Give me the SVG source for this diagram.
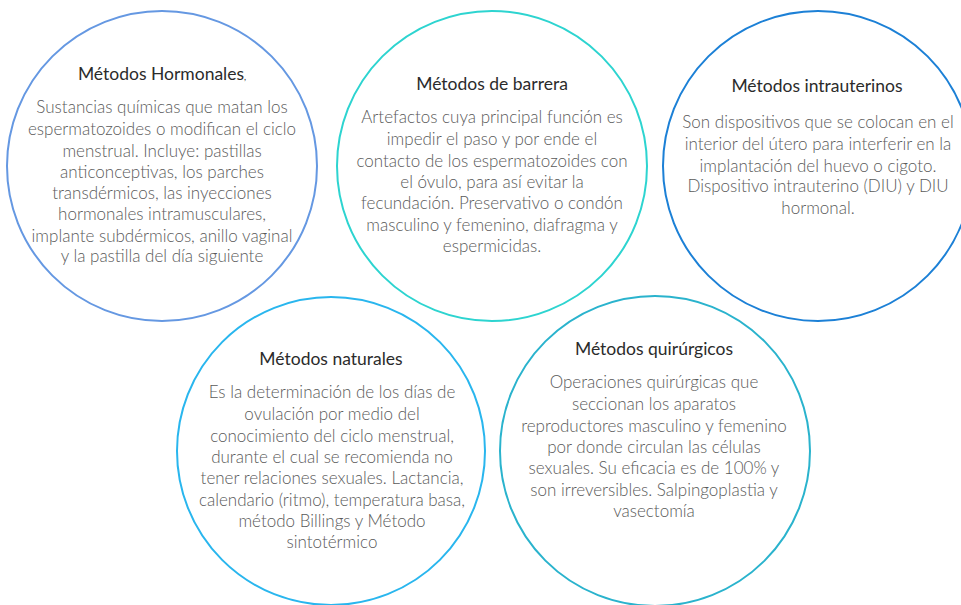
<svg xmlns="http://www.w3.org/2000/svg" width="961" height="605" viewBox="0 0 961 605">
<style>
.c{fill:none;stroke-width:2}
.t{font-family:Lato,"Open Sans","Liberation Sans",sans-serif;font-size:17.5px;fill:#2b2b2b;text-anchor:middle}
.b{font-family:Lato,"Open Sans","Liberation Sans",sans-serif;font-size:17px;font-weight:300;fill:#5a5a5a;text-anchor:middle}
</style>
<rect width="961" height="605" fill="#ffffff"/>
<g id="hormonales">
<circle class="c" cx="162" cy="166" r="155" stroke="#6598e2"/>
<text class="t" x="162" y="80">Métodos Hormonales<tspan font-size="9px">,</tspan></text>
<text class="b" x="162" y="113">Sustancias químicas que matan los</text>
<text class="b" x="162" y="135">espermatozoides o modifican el ciclo</text>
<text class="b" x="162" y="157">menstrual. Incluye: pastillas</text>
<text class="b" x="162" y="178">anticonceptivas, los parches</text>
<text class="b" x="162" y="199">transdérmicos, las inyecciones</text>
<text class="b" x="162" y="220">hormonales intramusculares,</text>
<text class="b" x="162" y="242">implante subdérmicos, anillo vaginal</text>
<text class="b" x="162" y="262">y la pastilla del día siguiente</text>
</g>
<g id="barrera">
<circle class="c" cx="492" cy="166" r="155" stroke="#2dd4d0"/>
<text class="t" x="492" y="90">Métodos de barrera</text>
<text class="b" x="492" y="123">Artefactos cuya principal función es</text>
<text class="b" x="492" y="145">impedir el paso y por ende el</text>
<text class="b" x="492" y="167">contacto de los espermatozoides con</text>
<text class="b" x="492" y="188">el óvulo, para así evitar la</text>
<text class="b" x="492" y="209">fecundación. Preservativo o condón</text>
<text class="b" x="492" y="231">masculino y femenino, diafragma y</text>
<text class="b" x="492" y="252">espermicidas.</text>
</g>
<g id="intrauterinos">
<circle class="c" cx="818" cy="166" r="155" stroke="#1c80d6"/>
<text class="t" x="817" y="92">Métodos intrauterinos</text>
<text class="b" x="818" y="128">Son dispositivos que se colocan en el</text>
<text class="b" x="818" y="150">interior del útero para interferir en la</text>
<text class="b" x="818" y="172">implantación del huevo o cigoto.</text>
<text class="b" x="818" y="192">Dispositivo intrauterino (DIU) y DIU</text>
<text class="b" x="818" y="214">hormonal.</text>
</g>
<g id="naturales">
<circle class="c" cx="331" cy="451" r="154" stroke="#29b6ee"/>
<text class="t" x="331" y="365">Métodos naturales</text>
<text class="b" x="332" y="398">Es la determinación de los días de</text>
<text class="b" x="332" y="420">ovulación por medio del</text>
<text class="b" x="332" y="442">conocimiento del ciclo menstrual,</text>
<text class="b" x="332" y="463">durante el cual se recomienda no</text>
<text class="b" x="332" y="484">tener relaciones sexuales. Lactancia,</text>
<text class="b" x="332" y="506">calendario (ritmo), temperatura basa,</text>
<text class="b" x="332" y="527">método Billings y Método</text>
<text class="b" x="332" y="548">sintotérmico</text>
</g>
<g id="quirurgicos">
<circle class="c" cx="655" cy="451" r="155" stroke="#2ab3cd"/>
<text class="t" x="654" y="355">Métodos quirúrgicos</text>
<text class="b" x="654" y="388">Operaciones quirúrgicas que</text>
<text class="b" x="654" y="410">seccionan los aparatos</text>
<text class="b" x="654" y="432">reproductores masculino y femenino</text>
<text class="b" x="654" y="453">por donde circulan las células</text>
<text class="b" x="654" y="474">sexuales. Su eficacia es de 100% y</text>
<text class="b" x="654" y="496">son irreversibles. Salpingoplastia y</text>
<text class="b" x="654" y="517">vasectomía</text>
</g>
<g id="connectors"></g>
</svg>
